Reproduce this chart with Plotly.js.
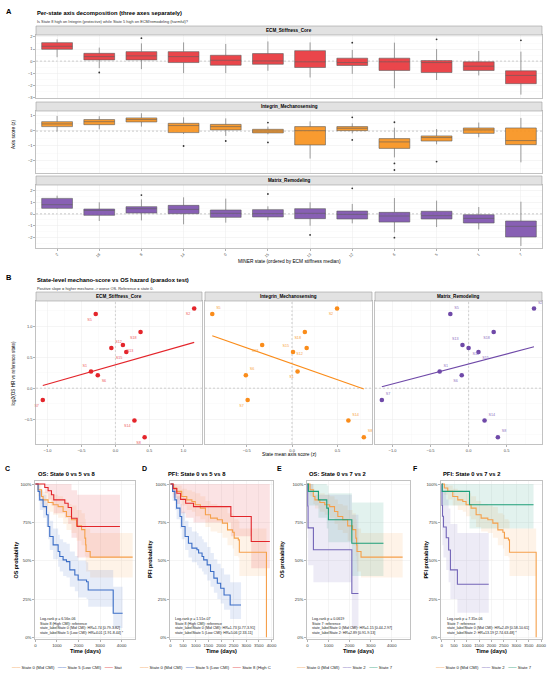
<!DOCTYPE html>
<html><head><meta charset="utf-8">
<script src="https://cdn.plot.ly/plotly-3.0.1.min.js"></script>
<style>html,body{margin:0;padding:0;background:#fff}#chart{width:550px;height:674px}</style>
</head><body><div id="chart"></div>
<script>
// ================= DATA =================
// Panel A: per-state box statistics (categories ordered as on the x axis)
const states = ['2','18','8','14','0','15','13','12','6','5','1','7'];
const ecmHi  = [1.8, 1.12, 1.47, 1.55, 1.42, 1.63, 1.55, 0.93, 1.53, 1.0, 0.84, 0.79];
const ecmQ3  = [1.53, 0.65, 0.79, 0.79, 0.49, 0.63, 0.87, 0.25, 0.25, 0.05, -0.05, -0.79];
const ecmMed = [1.23, 0.38, 0.44, 0.38, 0.08, 0.02, -0.05, -0.11, -0.05, -0.11, -0.41, -1.17];
const ecmQ1  = [0.98, 0.11, 0.11, -0.11, -0.33, -0.25, -0.52, -0.35, -0.76, -0.93, -0.76, -1.85];
const ecmLo  = [0.33, -0.57, -0.65, -0.98, -0.98, -0.79, -1.34, -1.04, -2.23, -1.55, -1.17, -2.75];
const ecmOutState = ['18','8','12','5','7'];
const ecmOutVal   = [-0.93, 1.9, 1.53, 1.8, 1.72];

const intHi  = [1.0, 0.98, 1.18, 0.91, 0.84, 0.29, 0.64, 0.51, 0.22, 0.13, 0.56, 0.87];
const intQ3  = [0.62, 0.76, 0.87, 0.51, 0.44, 0.11, 0.29, 0.29, -0.51, -0.33, 0.2, 0.2];
const intMed = [0.47, 0.62, 0.76, 0.36, 0.29, 0.0, 0.02, 0.18, -0.73, -0.44, 0.07, -0.64];
const intQ1  = [0.29, 0.42, 0.6, -0.11, 0.07, -0.13, -0.93, 0.02, -1.16, -0.67, -0.16, -0.91];
const intLo  = [-0.04, 0.11, 0.29, -0.2, -0.33, -0.22, -1.84, -0.16, -1.76, -0.89, -0.42, -2.09];
const intOutState = ['14','0','15','15','12','12','6','6','6','5'];
const intOutVal   = [-1.0, -0.67, 0.56, -0.76, 0.91, -0.6, 0.58, -2.16, -2.6, -2.04];

const matHi  = [1.55, 0.99, 1.24, 1.41, 1.3, 0.65, 0.99, 0.85, 1.35, 1.13, 0.59, 1.04];
const matQ3  = [1.32, 0.42, 0.62, 0.73, 0.34, 0.37, 0.45, 0.25, 0.14, 0.23, -0.06, -0.59];
const matMed = [0.79, 0.3, 0.45, 0.39, 0.06, 0.03, 0.06, -0.03, -0.17, -0.14, -0.37, -1.04];
const matQ1  = [0.48, -0.11, 0.08, 0.03, -0.28, -0.25, -0.39, -0.42, -0.68, -0.42, -0.76, -1.94];
const matLo  = [0.42, -0.59, -0.54, -0.87, -0.73, -0.54, -0.99, -0.79, -1.55, -1.1, -1.3, -2.7];
const matOutState = ['8','15','13','12','6'];
const matOutVal   = [1.6, 1.69, -1.77, 2.17, -2.0];

// Panel B: state means and log2 HR
const bStates    = ['S2','S5','S18','S12','S13','S15','S1','S6','S7','S14','S8'];
const logHR      = [1.29, 1.2, 0.91, 0.65, 0.70, 0.585, 0.27, 0.21, -0.19, -0.52, -0.79];
const ecmMean    = [1.16, -0.29, 0.37, -0.06, 0.11, 0.16, -0.36, -0.26, -1.07, 0.28, 0.43];
const intMean    = [0.495, -0.88, 0.14, 0.16, -0.33, 0.01, 0.06, -0.51, -0.49, 0.62, 0.79];
const matMean    = [0.86, -0.24, 0.33, 0.0, -0.08, 0.13, -0.38, -0.09, -1.14, 0.21, 0.385];

// Kaplan-Meier curves: time, survival, CI lower, CI upper
const os0T  = [0, 122, 279, 356, 588, 821, 1053, 1284, 1440, 1674, 1907, 2140, 2293, 2330, 2350, 2540, 4512];
const os0S  = [1, 0.963, 0.919, 0.897, 0.88, 0.865, 0.853, 0.821, 0.788, 0.767, 0.727, 0.703, 0.647, 0.603, 0.56, 0.523, 0.523];
const os0Lo = [1, 0.92, 0.87, 0.84, 0.82, 0.80, 0.78, 0.74, 0.70, 0.68, 0.63, 0.60, 0.53, 0.48, 0.43, 0.39, 0.39];
const os0Hi = [1, 1.0, 0.97, 0.95, 0.94, 0.93, 0.92, 0.90, 0.87, 0.86, 0.83, 0.81, 0.77, 0.74, 0.71, 0.68, 0.68];

const os5T  = [0, 122, 200, 356, 512, 588, 665, 821, 1053, 1130, 1284, 1440, 1595, 1828, 1983, 2371, 2448, 3609, 4046];
const os5S  = [1, 0.952, 0.897, 0.853, 0.8, 0.723, 0.658, 0.603, 0.56, 0.527, 0.505, 0.494, 0.44, 0.407, 0.374, 0.363, 0.309, 0.157, 0.157];
const os5Lo = [1, 0.89, 0.83, 0.78, 0.72, 0.64, 0.57, 0.51, 0.46, 0.43, 0.40, 0.39, 0.33, 0.30, 0.26, 0.25, 0.20, 0.06, 0.06];
const os5Hi = [1, 1.0, 0.96, 0.93, 0.88, 0.82, 0.76, 0.71, 0.67, 0.64, 0.62, 0.61, 0.56, 0.53, 0.50, 0.49, 0.44, 0.33, 0.33];

const os8T  = [0, 433, 588, 744, 850, 1363, 1518, 1674, 1935, 3921];
const os8S  = [1, 0.978, 0.956, 0.93, 0.897, 0.875, 0.847, 0.777, 0.723, 0.723];
const os8Lo = [1, 0.94, 0.90, 0.86, 0.81, 0.78, 0.74, 0.65, 0.52, 0.52];
const os8Hi = [1, 1, 1, 1, 1, 1, 1, 0.96, 0.93, 0.93];

const pfi0T  = [0, 105, 242, 444, 645, 847, 980, 1181, 1383, 1585, 1855, 2056, 2258, 2460, 2524, 2686, 2727, 3800];
const pfi0S  = [1, 0.974, 0.952, 0.919, 0.897, 0.886, 0.865, 0.843, 0.8, 0.778, 0.767, 0.745, 0.701, 0.686, 0.647, 0.636, 0.555, 0];
const pfi0Lo = [1, 0.93, 0.90, 0.86, 0.83, 0.82, 0.79, 0.77, 0.72, 0.69, 0.68, 0.65, 0.60, 0.58, 0.53, 0.52, 0.40, 0.40];
const pfi0Hi = [1, 1, 0.99, 0.97, 0.96, 0.95, 0.94, 0.92, 0.89, 0.87, 0.86, 0.85, 0.81, 0.80, 0.77, 0.76, 0.71, 0.71];

const pfi5T  = [0, 81, 173, 242, 375, 444, 577, 710, 847, 1048, 1113, 1250, 1315, 1452, 1585, 1718, 1855, 1988, 2121, 2363, 2794];
const pfi5S  = [1, 0.952, 0.897, 0.843, 0.788, 0.723, 0.658, 0.614, 0.582, 0.571, 0.55, 0.527, 0.505, 0.473, 0.429, 0.386, 0.353, 0.32, 0.276, 0.211, 0.211];
const pfi5Lo = [1, 0.89, 0.83, 0.77, 0.71, 0.64, 0.57, 0.52, 0.49, 0.47, 0.45, 0.43, 0.41, 0.37, 0.33, 0.29, 0.25, 0.22, 0.18, 0.12, 0.12];
const pfi5Hi = [1, 1, 0.96, 0.92, 0.87, 0.82, 0.76, 0.72, 0.69, 0.68, 0.66, 0.64, 0.62, 0.59, 0.55, 0.51, 0.48, 0.45, 0.41, 0.36, 0.36];

const pfi8T  = [0, 105, 250, 400, 600, 911, 2391, 3198, 3935];
const pfi8S  = [1, 0.97, 0.94, 0.90, 0.875, 0.853, 0.788, 0.625, 0.625];
const pfi8Lo = [1, 0.91, 0.87, 0.81, 0.78, 0.75, 0.66, 0.45, 0.45];
const pfi8Hi = [1, 1, 1, 1, 1, 1, 1, 1, 1];

const os7T  = [0, 47, 521, 917, 995, 2104, 3602];
const os7S  = [1, 0.952, 0.897, 0.843, 0.767, 0.614, 0.614];
const os7Lo = [1, 0.86, 0.78, 0.71, 0.62, 0.40, 0.40];
const os7Hi = [1, 1, 1, 0.99, 0.94, 0.88, 0.88];

const os2T  = [0, 15, 30, 284, 2104, 2417];
const os2S  = [1, 0.857, 0.714, 0.571, 0.286, 0.286];
const os2Lo = [1, 0.65, 0.47, 0.36, 0.06, 0.06];
const os2Hi = [1, 1, 1, 0.93, 0.80, 0.80];

const pfi7T  = [0, 20, 1118, 3694];
const pfi7S  = [1, 0.952, 0.865, 0.865];
const pfi7Lo = [1, 0.86, 0.71, 0.71];
const pfi7Hi = [1, 1, 1, 1];

const pfi2T  = [0, 10, 30, 70, 181, 277, 349, 630, 1891];
const pfi2S  = [1, 0.86, 0.79, 0.72, 0.65, 0.57, 0.44, 0.346, 0.346];
const pfi2Lo = [1, 0.70, 0.60, 0.52, 0.44, 0.36, 0.25, 0.16, 0.16];
const pfi2Hi = [1, 1, 1, 0.95, 0.90, 0.84, 0.74, 0.68, 0.68];

const statsC = ['Log-rank p = 6.56e-06','State 8 (High CMI): reference','state_labelState 0 (Mid CMI): HR=1.74 [0.79-3.82]','state_labelState 5 (Low CMI): HR=4.01 [1.91-8.44] *'];
const statsD = ['Log-rank p = 1.51e-07','State 8 (High CMI): reference','state_labelState 0 (Mid CMI): HR=1.73 [0.77-3.91]','state_labelState 5 (Low CMI): HR=5.06 [2.33-11]'];
const statsE = ['Log-rank p = 0.0619','State 7: reference','state_labelState 0 (Mid CMI): HR=1.15 [0.44-2.97]','state_labelState 2: HR=2.89 [0.91-9.13]'];
const statsF = ['Log-rank p = 7.35e-06','State 7: reference','state_labelState 0 (Mid CMI): HR=2.49 [0.58-10.61]','state_labelState 2: HR=13.19 [2.74-63.48] *'];

// ================= STYLE / LAYOUT =================
const FONT = '"Liberation Sans", Arial, sans-serif';
const W = 550, H = 674;
const px = x => x / W, py = y => 1 - y / H;
const RED_A = 'rgba(232,54,60,0.92)', ORA_A = 'rgba(247,147,30,0.92)', PUR_A = 'rgba(126,82,174,0.92)';
const RED_B = '#E4252B', ORA_B = '#FA8C1A', PUR_B = '#6F49A8';
const RED_T = '#EE5A5E', ORA_T = '#F7A23E', PUR_T = '#8D6FC1';
const K_OR = '#F5A04B', K_BL = '#3B6DC6', K_RD = '#E2262B', K_GR = '#1E9E78', K_PU = '#7466B8';

function ax(extra) {
  return Object.assign({
    showgrid: true, gridcolor: '#EBEBEB', gridwidth: 0.5, zeroline: false,
    showline: true, mirror: true, linecolor: '#A8A8A8', linewidth: 0.7,
    ticks: 'outside', ticklen: 2, tickwidth: 0.5, tickcolor: '#666',
    tickfont: {size: 4, color: '#4D4D4D', family: FONT}
  }, extra);
}

const traces = [];
const layout = {
  width: W, height: H, margin: {l: 0, r: 0, t: 0, b: 0},
  paper_bgcolor: '#fff', plot_bgcolor: '#fff', showlegend: false,
  font: {family: FONT}, annotations: [], shapes: []
};
function ann(text, x, y, o) {
  o = o || {};
  layout.annotations.push({
    text: text, x: px(x), y: py(y), xref: 'paper', yref: 'paper', showarrow: false,
    xanchor: o.xa || 'left', yanchor: o.ya || 'middle', align: o.align || 'left',
    textangle: o.angle || 0,
    font: {family: FONT, size: o.size || 4, color: o.color || '#000'}
  });
}

// ---------- Panel A ----------
const aFacets = [
  {name: 'ECM_Stiffness_Core', top: 35, bot: 98, strip: 26, range: [-3.03, 2.16], dtick: 1,
   hi: ecmHi, q3: ecmQ3, med: ecmMed, q1: ecmQ1, lo: ecmLo, os: ecmOutState, ov: ecmOutVal, fill: RED_A},
  {name: 'Integrin_Mechanosensing', top: 111, bot: 173, strip: 102, range: [-2.8, 1.33], dtick: 1,
   hi: intHi, q3: intQ3, med: intMed, q1: intQ1, lo: intLo, os: intOutState, ov: intOutVal, fill: ORA_A},
  {name: 'Matrix_Remodeling', top: 185, bot: 248, strip: 176, range: [-2.87, 2.45], dtick: 1,
   hi: matHi, q3: matQ3, med: matMed, q1: matQ1, lo: matLo, os: matOutState, ov: matOutVal, fill: PUR_A}
];
aFacets.forEach((f, i) => {
  const n = i + 1, xs = n === 1 ? '' : String(n);
  const xa = 'x' + xs, ya = 'y' + xs;
  layout['xaxis' + xs] = ax({domain: [px(36), px(542)], anchor: ya, type: 'category',
    categoryorder: 'array', categoryarray: states, range: [-0.5, states.length - 0.5],
    showticklabels: i === 2, ticks: i === 2 ? 'outside' : '', tickangle: -45,
    tickfont: {size: 3.8, color: '#4D4D4D', family: FONT}});
  layout['yaxis' + xs] = ax({domain: [py(f.bot), py(f.top)], anchor: xa, range: f.range, dtick: f.dtick,
    minor: {dtick: 0.5, showgrid: true, gridcolor: '#F4F4F4', gridwidth: 0.4}});
  layout.shapes.push({type: 'rect', xref: 'paper', yref: 'paper', x0: px(36), x1: px(542),
    y0: py(f.top), y1: py(f.strip), fillcolor: '#E2E2E2', line: {color: '#A0A0A0', width: 0.6}, layer: 'above'});
  ann('<b>' + f.name + '</b>', 289, (f.top + f.strip) / 2, {xa: 'center', size: 4.6});
  layout.shapes.push({type: 'line', xref: xa + ' domain', yref: ya, x0: 0, x1: 1, y0: 0, y1: 0,
    line: {color: '#8C8C8C', width: 0.6, dash: '2px,2px'}, layer: 'below'});
  traces.push({type: 'box', x: states, q1: f.q1, median: f.med, q3: f.q3, lowerfence: f.lo, upperfence: f.hi,
    xaxis: xa, yaxis: ya, fillcolor: f.fill, line: {color: '#5E5E5E', width: 0.6}, whiskerwidth: 0,
    width: 0.73, boxpoints: false, hoverinfo: 'skip'});
  traces.push({type: 'scatter', mode: 'markers', x: f.os, y: f.ov, xaxis: xa, yaxis: ya,
    marker: {size: 1.8, color: '#333'}, hoverinfo: 'skip'});
});
ann('<b>A</b>', 4, 12, {size: 7.5});
ann('<b>Per-state axis decomposition (three axes separately)</b>', 35, 13, {size: 5.8});
ann('Is State 8 high on Integrin (protective) while State 5 high on ECM/remodeling (harmful)?', 35, 21, {size: 3.9, color: '#333'});
ann('Axis score (z)', 14, 135, {xa: 'center', angle: -90, size: 4.8});
ann('MINER state (ordered by ECM stiffness median)', 289, 261, {xa: 'center', size: 4.8});

// ---------- Panel B ----------
function linfit(xs, ys) {
  const n = xs.length;
  const mx = xs.reduce((a, b) => a + b, 0) / n, my = ys.reduce((a, b) => a + b, 0) / n;
  let sxy = 0, sxx = 0;
  for (let i = 0; i < n; i++) { sxy += (xs[i] - mx) * (ys[i] - my); sxx += (xs[i] - mx) ** 2; }
  const b = sxy / sxx, a = my - b * mx;
  const x0 = Math.min(...xs), x1 = Math.max(...xs);
  return {x: [x0, x1], y: [a + b * x0, a + b * x1]};
}
const bFacets = [
  {name: 'ECM_Stiffness_Core', x0: 36, x1: 202, range: [-1.17, 1.275], xs: ecmMean, col: RED_B, tcol: RED_T,
   pos: ['bottom left','bottom left','bottom left','top right','bottom right','bottom left','top left','bottom right','bottom left','bottom left','bottom left']},
  {name: 'Integrin_Mechanosensing', x0: 205, x1: 372, range: [-0.96, 0.88], xs: intMean, col: ORA_B, tcol: ORA_T,
   pos: ['bottom left','top right','bottom left','bottom left','bottom left','top left','bottom left','top right','bottom left','top right','top right']},
  {name: 'Matrix_Remodeling', x0: 375, x1: 542, range: [-1.23, 0.965], xs: matMean, col: PUR_B, tcol: PUR_T,
   pos: ['top right','top right','bottom left','bottom right','top left','bottom right','top right','bottom left','top right','top right','top right']}
];
bFacets.forEach((f, i) => {
  const n = String(i + 4), xa = 'x' + n, ya = 'y' + n;
  layout['xaxis' + n] = ax({domain: [px(f.x0), px(f.x1)], anchor: ya, range: f.range, dtick: 0.5, tick0: 0,
    tickformat: '.1f', minor: {dtick: 0.25, showgrid: true, gridcolor: '#F4F4F4', gridwidth: 0.4}});
  layout['yaxis' + n] = ax({domain: [py(444), py(301)], anchor: xa, range: [-0.9, 1.41], dtick: 0.5, tick0: 0,
    tickformat: '.1f', showticklabels: i === 0, ticks: i === 0 ? 'outside' : '',
    minor: {dtick: 0.25, showgrid: true, gridcolor: '#F4F4F4', gridwidth: 0.4}});
  layout.shapes.push({type: 'rect', xref: 'paper', yref: 'paper', x0: px(f.x0), x1: px(f.x1),
    y0: py(301), y1: py(292), fillcolor: '#E2E2E2', line: {color: '#A0A0A0', width: 0.6}, layer: 'above'});
  ann('<b>' + f.name + '</b>', (f.x0 + f.x1) / 2, 296.5, {xa: 'center', size: 4.6});
  layout.shapes.push({type: 'line', xref: xa + ' domain', yref: ya, x0: 0, x1: 1, y0: 0, y1: 0,
    line: {color: '#8C8C8C', width: 0.6, dash: '2px,2px'}, layer: 'below'});
  layout.shapes.push({type: 'line', xref: xa, yref: ya + ' domain', x0: 0, x1: 0, y0: 0, y1: 1,
    line: {color: '#8C8C8C', width: 0.6, dash: '2px,2px'}, layer: 'below'});
  const fit = linfit(f.xs, logHR);
  traces.push({type: 'scatter', mode: 'lines', x: fit.x, y: fit.y, xaxis: xa, yaxis: ya,
    line: {color: f.col, width: 1.1}, hoverinfo: 'skip'});
  traces.push({type: 'scatter', mode: 'markers+text', x: f.xs, y: logHR, text: bStates, textposition: f.pos,
    xaxis: xa, yaxis: ya, cliponaxis: false, marker: {size: 4.6, color: f.col},
    textfont: {size: 3.7, color: f.tcol, family: FONT}, hoverinfo: 'skip'});
});
ann('<b>B</b>', 4, 277, {size: 7.5});
ann('<b>State-level mechano-score vs OS hazard (paradox test)</b>', 35, 280, {size: 5.8});
ann('Positive slope = higher mechano -> worse OS. Reference = state 0.', 35, 288, {size: 3.9, color: '#333'});
ann('log2(OS HR vs reference state)', 13.5, 373, {xa: 'center', angle: -90, size: 4.6});
ann('State mean axis score (z)', 289, 454, {xa: 'center', size: 4.8});

// ---------- Panels C-F ----------
const kmPanels = [
  {letter: 'C', title: 'OS: State 0 vs 5 vs 8', ytitle: 'OS probability', x0: 35, x1: 135, range: [-20, 4620], dtick: 1000,
   curves: [[os0T, os0S, os0Lo, os0Hi, K_OR], [os5T, os5S, os5Lo, os5Hi, K_BL], [os8T, os8S, os8Lo, os8Hi, K_RD]],
   stats: statsC, lab: 7, ttl: 35.7, yt: 15.5, sx: 38, lx: 10,
   legend: [['State 0 (Mid CMI)', K_OR], ['State 5 (Low CMI)', K_BL], ['Stat', K_RD]]},
  {letter: 'D', title: 'PFI: State 0 vs 5 vs 8', ytitle: 'PFI probability', x0: 170, x1: 273, range: [-20, 4060], dtick: 500,
   curves: [[pfi0T, pfi0S, pfi0Lo, pfi0Hi, K_OR], [pfi5T, pfi5S, pfi5Lo, pfi5Hi, K_BL], [pfi8T, pfi8S, pfi8Lo, pfi8Hi, K_RD]],
   stats: statsD, lab: 144, ttl: 165.7, yt: 150, sx: 172.5, lx: 138,
   legend: [['State 0 (Mid CMI)', K_OR], ['State 5 (Low CMI)', K_BL], ['State 8 (High C', K_RD]]},
  {letter: 'E', title: 'OS: State 0 vs 7 vs 2', ytitle: 'OS probability', x0: 307, x1: 410, range: [-20, 4860], dtick: 1000,
   curves: [[os0T, os0S, os0Lo, os0Hi, K_OR], [os2T, os2S, os2Lo, os2Hi, K_PU], [os7T, os7S, os7Lo, os7Hi, K_GR]],
   stats: statsE, lab: 280, ttl: 307, yt: 282, sx: 310, lx: 295,
   legend: [['State 0 (Mid CMI)', K_OR], ['State 2', K_PU], ['State 7', K_GR]]},
  {letter: 'F', title: 'PFI: State 0 vs 7 vs 2', ytitle: 'PFI probability', x0: 441, x1: 542, range: [-30, 4035], dtick: 500,
   curves: [[pfi0T, pfi0S, pfi0Lo, pfi0Hi, K_OR], [pfi2T, pfi2S, pfi2Lo, pfi2Hi, K_PU], [pfi7T, pfi7S, pfi7Lo, pfi7Hi, K_GR]],
   stats: statsF, lab: 415, ttl: 440.7, yt: 425.5, sx: 444.5, lx: 434,
   legend: [['State 0 (Mid CMI)', K_OR], ['State 2', K_PU], ['State 7', K_GR]]}
];
function rgba(hex, a) {
  const v = parseInt(hex.slice(1), 16);
  return 'rgba(' + (v >> 16) + ',' + ((v >> 8) & 255) + ',' + (v & 255) + ',' + a + ')';
}
kmPanels.forEach((p, i) => {
  const n = String(i + 7), xa = 'x' + n, ya = 'y' + n;
  layout['xaxis' + n] = ax({domain: [px(p.x0), px(p.x1)], anchor: ya, range: p.range, dtick: p.dtick, tick0: 0,
    tickfont: {size: 4.3, color: '#333', family: FONT}});
  layout['yaxis' + n] = ax({domain: [py(639), py(481)], anchor: xa, range: [-0.011, 1.02], dtick: 0.25, tick0: 0,
    tickformat: '.0%', tickfont: {size: 4.3, color: '#333', family: FONT}});
  p.curves.forEach(c => {
    const t = c[0];
    traces.push({type: 'scatter', mode: 'lines', x: t, y: c[2], xaxis: xa, yaxis: ya,
      line: {width: 0, shape: 'hv', color: 'rgba(0,0,0,0)'}, hoverinfo: 'skip'});
    traces.push({type: 'scatter', mode: 'lines', x: t, y: c[3], xaxis: xa, yaxis: ya, fill: 'tonexty',
      fillcolor: rgba(c[4], 0.13), line: {width: 0, shape: 'hv', color: 'rgba(0,0,0,0)'}, hoverinfo: 'skip'});
  });
  p.curves.forEach(c => {
    traces.push({type: 'scatter', mode: 'lines', x: c[0], y: c[1], xaxis: xa, yaxis: ya,
      line: {width: 1.1, shape: 'hv', color: c[4]}, hoverinfo: 'skip'});
  });
  ann('<b>' + p.letter + '</b>', p.lab, 468, {xa: 'center', size: 7});
  ann('<b>' + p.title + '</b>', p.ttl, 473.5, {size: 5.8});
  ann('<b>' + p.ytitle + '</b>', p.yt, 560, {xa: 'center', angle: -90, size: 5.4});
  ann('<b>Time (days)</b>', (p.x0 + p.x1) / 2, 651, {xa: 'center', size: 5.6});
  ann(p.stats.join('<br>'), p.sx, 615, {ya: 'top', size: 3.6, color: '#222'});
  const leg = p.legend.map(it => '<span style="color:' + it[1] + '"><b>\u2014\u2014</b></span> ' + it[0]).join('\u00A0\u00A0\u00A0');
  ann(leg, p.lx, 667, {size: 4.2, color: '#222'});
});

Plotly.newPlot('chart', traces, layout, {staticPlot: true, displayModeBar: false});
</script>
</body></html>
